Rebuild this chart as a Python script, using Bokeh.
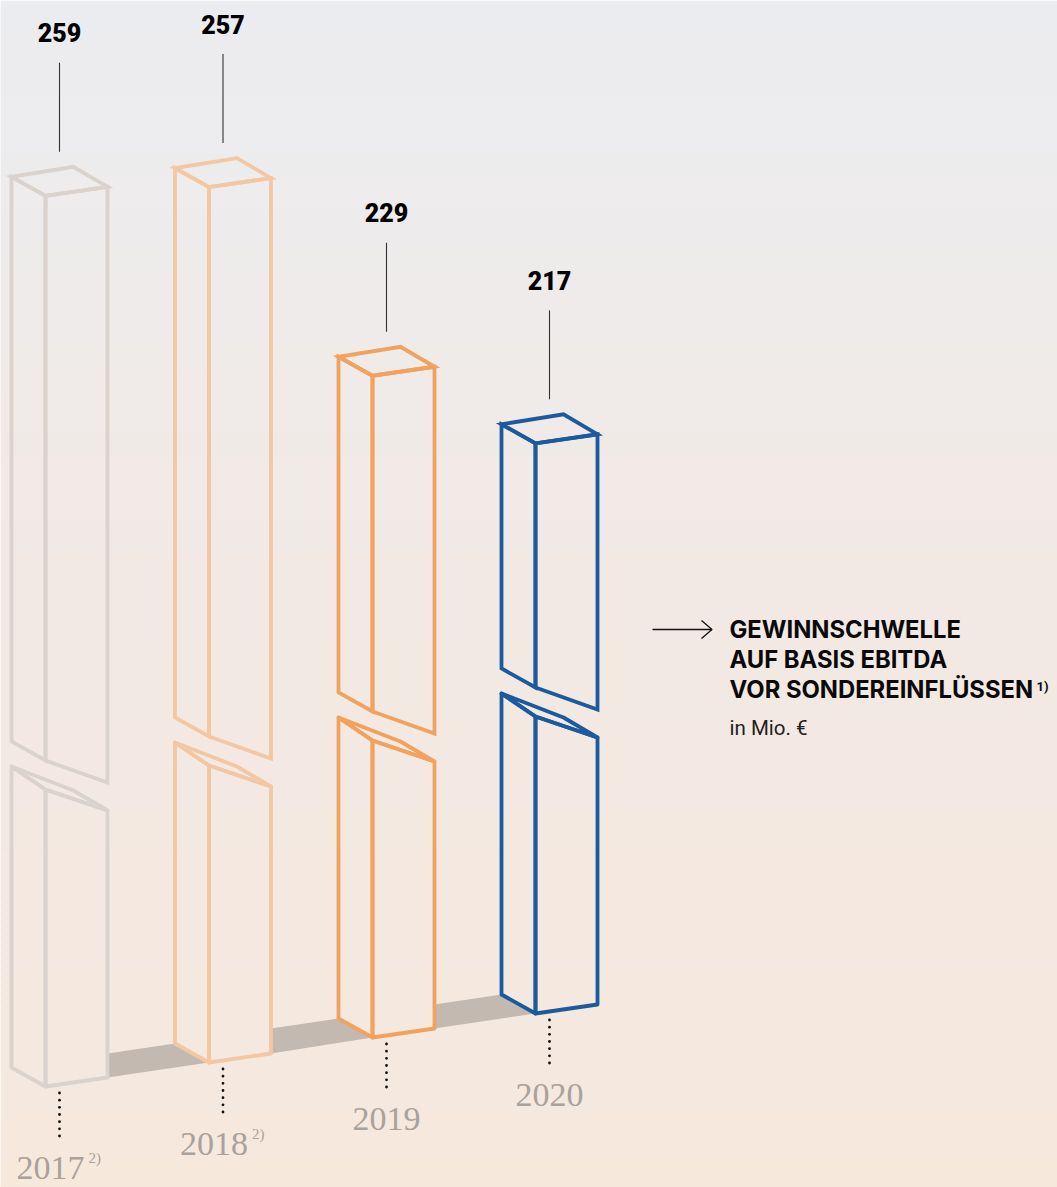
from bokeh.embed import file_html
from bokeh.models import Range1d
from bokeh.plotting import figure
from bokeh.resources import INLINE
from bokeh.core.properties import value
import numpy as np

# EBITDA before special items, in EUR million
years = ["2017", "2018", "2019", "2020"]
ebitda = [259, 257, 229, 217]
footnotes = ["2)", "2)", "", ""]
title_lines = ["GEWINNSCHWELLE", "AUF BASIS EBITDA", "VOR SONDEREINFLÜSSEN"]
title_note = "1)"
unit_text = "in Mio. €"

bar_colors = ["#D9D2CD", "#F2C7A4", "#F2A25F", "#1B5A9E"]
band_color = "#C4B9B1"
year_color = "#A9A29C"
W, H = 1057, 1187

# The vertical axis runs in EUR million; the bars sit on a truncated scale.
PX_PER_UNIT = 7.63
AXIS_CUT = 142.27


def up(px):
    return px / PX_PER_UNIT


def from_top(px):
    return (H - px) / PX_PER_UNIT


front_x = [45, 208.5, 372, 535]
floor_px = [1086, 1062, 1037, 1013]
floors = [from_top(f) for f in floor_px]

# Isometric offsets of the box corners from the front edge
LEFT = (-34, 19)
RIGHT = (62, 9)
BACK = (28, 29)

p = figure(width=W, height=H, output_backend="svg", toolbar_location=None,
           x_range=Range1d(0, W), y_range=Range1d(0, H / PX_PER_UNIT),
           min_border=0, outline_line_color=None)
p.axis.visible = False
p.grid.visible = False
p.background_fill_color = None
p.border_fill_color = None

# Soft vertical wash behind the chart; each strip runs under the next to avoid seams
stops_px = [0, 130, 600, 1090, 1187]
stops_rgb = np.array([[235, 236, 240], [237, 236, 238], [242, 233, 228], [245, 232, 222], [247, 232, 220]])
edges = np.arange(0, H + 8, 8)
centres = (edges[:-1] + edges[1:]) / 2
wash = [
    "#%02x%02x%02x" % tuple(int(round(np.interp(c, stops_px, stops_rgb[:, k]))) for k in range(3))
    for c in centres
]
p.quad(left=0, right=W, top=[from_top(e) for e in edges[:-1]],
       bottom=[from_top(min(e + 3, H)) for e in edges[1:]], fill_color=wash, line_color=None)

# Floor shadow, visible in the gaps between neighbouring boxes
for i in range(1, len(years)):
    x0 = front_x[i - 1] + RIGHT[0]
    xl = front_x[i] + LEFT[0]
    xf = front_x[i]
    yl = floors[i] + up(LEFT[1])
    yf = floors[i]
    y_low = floors[i - 1] + up(RIGHT[1])
    y_high = yl - up((xl - x0) * 0.1476)
    p.patch([x0, xl, xf, x0], [y_high, yl, yf, y_low], fill_color=band_color, line_color=None)

BREAK_UPPER = up(326)
BREAK_LOWER = up(297)
STROKE = 3.8


def outline(patches, colour, join):
    xs = [[x for x, _ in face] for face in patches]
    ys = [[y for _, y in face] for face in patches]
    p.patches(xs, ys, fill_color=None, line_color=colour, line_width=STROKE, line_join=join)


for i, val in enumerate(ebitda):
    fx = front_x[i]
    lx, rx, bx = fx + LEFT[0], fx + RIGHT[0], fx + BACK[0]
    base = floors[i]
    top = base + val - AXIS_CUT
    lt, rt, bt = top + up(LEFT[1]), top + up(RIGHT[1]), top + up(BACK[1])

    # Upper section, from the break up to the value
    cut = base + BREAK_UPPER
    cut_l, cut_r = cut + up(19), cut - up(22)
    upper = [
        [(lx, lt), (fx, top), (fx, cut), (lx, cut_l)],
        [(fx, top), (rx, rt), (rx, cut_r), (fx, cut)],
        [(fx, top), (lx, lt), (bx, bt), (rx, rt)],
    ]

    # Lower section, from the floor up to the break
    stub = base + BREAK_LOWER
    stub_l, stub_r, stub_b = stub + up(23), stub - up(21), stub - up(1)
    lower = [
        [(lx, stub_l), (fx, stub), (fx, base), (lx, base + up(LEFT[1]))],
        [(fx, stub), (rx, stub_r), (rx, base + up(RIGHT[1])), (fx, base)],
    ]
    sliver = [[(lx, stub_l), (bx, stub_b), (rx, stub_r), (fx, stub)]]
    outline(upper, bar_colors[i], "miter")
    outline(lower + sliver, bar_colors[i], "round")

    # Leader from the box up to its value, dotted leader down to the year
    cx = fx + 14
    p.line([cx, cx], [top + up(44), top + up(133)], line_color="#333333", line_width=1.1)
    dots = np.linspace(base - up(6.5), base - up(49.5), 7)
    p.scatter([cx] * 7, dots, size=2.8, marker="circle", fill_color="#111111", line_color=None)

    p.text([cx], [top + up(163)], text=[str(val)], text_font=value("Roboto Black"),
           text_font_size="25px", text_color="#000000",
           text_align="center", text_baseline="middle")
    shift = -9 if footnotes[i] else 0
    p.text([cx + shift], [base - up(81)], text=[years[i]], text_font=value("Liberation Serif"),
           text_font_size="34px", text_color=year_color,
           text_align="center", text_baseline="middle")
    if footnotes[i]:
        p.text([cx + 29], [base - up(71)], text=[footnotes[i]], text_font=value("Liberation Serif"),
               text_font_size="15px", text_color=year_color,
               text_align="left", text_baseline="middle")

# Arrow pointing at the caption
p.line([652, 711], [from_top(629)] * 2, line_color="#111111", line_width=1.3)
p.line([701, 711.5, 701], [from_top(620), from_top(629), from_top(638)],
       line_color="#111111", line_width=1.3)

# Caption
for text, mid_px in zip(title_lines, [629, 658.5, 688.5]):
    p.text([729], [from_top(mid_px)], text=[text], text_font=value("Inter"),
           text_font_style="bold", text_font_size="23.8px", text_color="#0A0A0A",
           text_align="left", text_baseline="middle")
p.text([1036], [from_top(686)], text=[title_note], text_font=value("Roboto"),
       text_font_style="bold", text_font_size="13px", text_color="#0A0A0A",
       text_align="left", text_baseline="middle")
p.text([729], [from_top(727)], text=[unit_text], text_font=value("Roboto"),
       text_font_size="20.5px", text_color="#222222",
       text_align="left", text_baseline="middle")

open("out.html", "w").write(file_html(p, INLINE))
